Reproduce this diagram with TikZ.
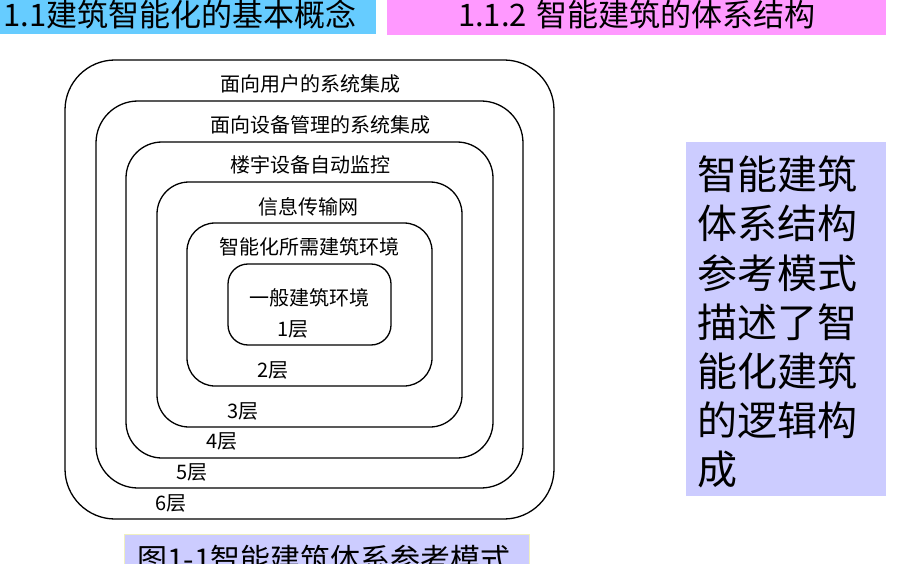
\documentclass[tikz,border=0pt]{standalone}
\usepackage{fontspec}
\setmainfont{Noto Sans CJK SC}
\definecolor{headblue}{RGB}{102,204,255}
\definecolor{headpink}{RGB}{255,153,255}
\definecolor{lavender}{RGB}{204,204,255}
\definecolor{paleyellow}{RGB}{240,240,190}
\begin{document}
\begin{tikzpicture}[x=1pt, y=-1pt,
	layer/.style={draw=black, line width=1.3pt},
	every node/.style={inner sep=0pt, font=\fontsize{20}{24}\selectfont},
	head/.style={font=\fontsize{31}{35}\selectfont, anchor=base},
	side/.style={font=\fontsize{40}{48}\selectfont, anchor=base west}]
\useasboundingbox (0,0) rectangle (902,564);
\clip (0,0) rectangle (902,564);
% header bars
\fill[headblue] (0,0) rectangle (376,34);
\fill[headpink] (387,0) rectangle (886,35);
\node[head, anchor=base west] (sec) at (3,27) {1.1建筑智能化的基本概念};
\node[head] (sub) at (637,27) {1.1.2\hspace{10pt}智能建筑的体系结构};
% nested layers
\foreach \n/\xa/\ya/\xb/\yb/\rr in {6/65/60/554/519/50, 5/96/101/523/488/42,
		4/126/142/493/458/36, 3/157/182/462/427/32, 2/187/223/432/386/28,
		1/228/264/391/345/20} {
	\draw[layer, rounded corners=\rr pt] (\xa,\ya) rectangle (\xb,\yb);
}
\foreach \n/\tx/\ty/\txt in {6/310/84/面向用户的系统集成, 5/320/125/面向设备管理的系统集成,
		4/310/165/楼宇设备自动监控, 3/308/207/信息传输网,
		2/309/247/智能化所需建筑环境, 1/309/298/一般建筑环境} {
	\node (T\n) at (\tx,\ty) {\txt};
}
\foreach \n/\lx/\ly in {1/293/329, 2/273/370, 3/243/411, 4/222/441, 5/192/472, 6/171/503} {
	\node (L\n) at (\lx,\ly) {\n 层};
}
% side note
\fill[lavender] (686,142) rectangle (886,496);
\foreach \s [count=\i from 0] in {智能建筑, 体系结构, 参考模式, 描述了智, 能化建筑, 的逻辑构, 成} {
	\node[side] (S\i) at (697,190+49*\i) {\s};
}
% caption
\filldraw[fill=lavender, draw=paleyellow, line width=1pt] (124,534) rectangle (529,580);
\node[head, anchor=base west, font=\fontsize{30}{34}\selectfont] (cap) at (137,570) {图1-1智能建筑体系参考模式};
\end{tikzpicture}
\end{document}
